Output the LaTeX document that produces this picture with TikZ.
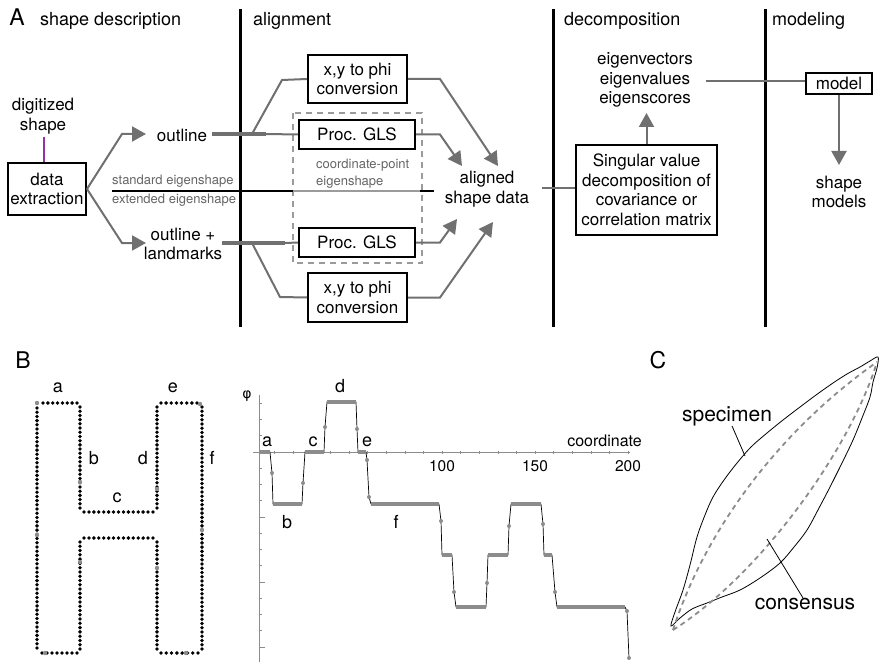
\documentclass[tikz,border=0pt]{standalone}
\usepackage{fontspec}
\setmainfont{TeX Gyre Heros}
\newfontfamily\dejavu{DejaVu Sans}
\usetikzlibrary{arrows.meta,calc}
\definecolor{cgray}{RGB}{112,112,112}
\definecolor{lgray}{RGB}{155,155,155}
\definecolor{tgray}{RGB}{100,100,100}
\definecolor{pgray}{RGB}{140,140,140}
\definecolor{purp}{RGB}{150,50,165}
\newcommand\fsz[2]{\fontsize{#1}{#2}\selectfont}
\newcommand\dotline[5]{\foreach \k in {0,...,#5}{\fill ($(#1,#2)!\k/#5!(#3,#4)$) circle[radius=1.9pt];}}
\begin{document}
\begin{tikzpicture}[x=1pt,y=-1pt,
  every node/.style={inner sep=0pt, align=center, font=\fsz{17}{19.5}},
  box/.style={draw=black, line width=2pt, fill=white},
  conn/.style={draw=cgray, line width=2pt},
  thickconn/.style={draw=cgray, line width=3.5pt},
  arr/.style={draw=cgray, line width=2pt, -{Triangle[length=14pt,width=15pt]}},
  secline/.style={draw=black, line width=3pt},
  head/.style={anchor=base west, font=\fsz{18}{20}},
  panel/.style={anchor=base, font=\fsz{23}{23}},
  gtext/.style={text=tgray, font=\fsz{13}{17}},
  plab/.style={font=\fsz{18}{20}},
  bar/.style={draw=pgray, line width=3.4pt},
  axis/.style={draw=pgray, line width=0.8pt}]
\useasboundingbox (0,0) rectangle (880,663);

% ---------- Panel A headers ----------
\node[panel] (lA) at (17,26) {A};
\node[head] (h1) at (40,26) {shape description};
\node[head] (h2) at (253,26) {alignment};
\node[head] (h3) at (564,26) {decomposition};
\node[head] (h4) at (772,26) {modeling};
\coordinate (s1t) at (240,9);  \coordinate (s1b) at (240,327);
\coordinate (s2t) at (553,9);  \coordinate (s2b) at (553,327);
\coordinate (s3t) at (765,9);  \coordinate (s3b) at (765,327);
\draw[secline] (s1t) -- (s1b);
\draw[secline] (s2t) -- (s2b);
\draw[secline] (s3t) -- (s3b);

% dashed group box and separator
\draw[lgray, line width=1.5pt, dash pattern=on 6pt off 5pt] (293,113) rectangle (422,263);
\draw[line width=1.5pt] (112,191) -- (293,191);
\draw[lgray, line width=1.5pt] (293,191) -- (420,191);
\draw[line width=1.5pt] (420,191) -- (434,191);
\node[gtext, anchor=west] (std) at (112,181) {standard eigenshape};
\node[gtext, anchor=west] (ext) at (112,200) {extended eigenshape};
\node[gtext, anchor=west, align=left] (cpe) at (316,174) {coordinate-point\\eigenshape};

% nodes
\node[box, minimum width=78pt, minimum height=52pt] (dext) at (47,189) {data\\extraction};
\node (digit) at (43,116) {digitized\\shape};
\node (outl) at (182,135) {outline};
\node (outlm) at (183,244) {outline +\\landmarks};
\node[box, minimum width=99pt, minimum height=48pt] (xy1) at (357.5,79) {x,y to phi\\conversion};
\node[box, minimum width=116pt, minimum height=29pt] (gls1) at (357,134.5) {Proc. GLS};
\node[box, minimum width=116pt, minimum height=29pt] (gls2) at (357,242.5) {Proc. GLS};
\node[box, minimum width=99pt, minimum height=49pt] (xy2) at (357.5,297.5) {x,y to phi\\conversion};
\node (asd) at (487,189) {aligned\\shape data};
\node[box, minimum width=141pt, minimum height=90pt] (svd) at (646.5,190) {Singular value\\decomposition of\\covariance or\\correlation matrix};
\node (eig) at (645,80) {eigenvectors\\eigenvalues\\eigenscores};
\node[box, minimum width=66pt, minimum height=21pt] (model) at (839,83.5) {model};
\node (smod) at (839,192) {shape\\models};

% connectors
\draw[purp, line width=2.5pt] ([xshift=-3pt]dext.north) -- ++(0,-25);
\draw[arr] (dext.east) -- (122,134) -- (146,134);
\draw[arr] (dext.east) -- (122,243) -- (146,243);
\draw[thickconn] (212,134) -- (266,134);
\draw[conn] (266,134) -- (gls1.west);
\draw[conn] (252,134) -- (282,80) -- (xy1.west);
\draw[thickconn] (222,243) -- (285,243);
\draw[conn] (285,243) -- (gls2.west);
\draw[conn] (252,243) -- (280,297) -- (xy2.west);
\draw[arr] (xy1.east) -- (440,79) -- (498,166);
\draw[arr] (gls1.east) -- (440,134.5) -- (462,166);
\draw[arr] (gls2.east) -- (440,242.5) -- (457,219);
\draw[arr] (xy2.east) -- (440,297.5) -- (493,222);
\draw[conn] (542,188) -- ([yshift=2pt]svd.west);
\draw[arr] (svd.north) -- (646.5,113);
\draw[conn] (706,81) -- ([yshift=2.5pt]model.west);
\draw[arr] (model.south) -- (839,165);

% ---------- Panel B ----------
\node[panel] (lB) at (23,368) {B};
\node[panel] (lC) at (658,368) {C};

% H outline dots
\dotline{37}{408}{37}{648}{57}
\dotline{43}{403}{77}{403}{7}
\dotline{80}{407}{80}{508}{24}
\dotline{84}{512}{153}{512}{14}
\dotline{157}{508}{157}{407}{24}
\dotline{161}{403}{197}{403}{7}
\dotline{202}{407}{202}{649}{57}
\dotline{198}{653}{161}{653}{7}
\dotline{157}{649}{157}{542}{25}
\dotline{153}{538}{84}{538}{14}
\dotline{80}{542}{80}{649}{25}
\dotline{77}{653}{42}{653}{7}
\foreach \x/\y in {37/403, 80/482, 157/489, 200/404, 37/535, 80/562, 157/568, 202/530, 45/653, 186/653}
  \fill[pgray] (\x,\y) circle[radius=2.2pt];
\node[plab] (ha) at (58,388) {a};
\node[plab] (he) at (173,388) {e};
\node[plab] (hb) at (94,458) {b};
\node[plab] (hd) at (143,458) {d};
\node[plab] (hf) at (212,458) {f};
\node[plab] (hc) at (117,498) {c};

% plot axes
\draw[axis] (259,395) -- (259,662);
\foreach \p in {1.5,1.0,...,-6.5} \draw[axis] (259,{452-32.5*\p}) -- ++(3,0);
\foreach \p in {-2,-4,-6} \draw[axis] (259,{452-32.5*\p}) -- ++(6,0);
\draw[axis] (253,452) -- (630,452);
\foreach \c in {10,20,...,200} \draw[axis, line width=0.6pt] ({256+1.86*\c},450.5) -- ++(0,3);
\node[font=\fsz{14}{14}] (phi) at (247,396) {\dejavu φ};
\node[font=\fsz{15.5}{16}] (t100) at (442,466) {100};
\node[font=\fsz{15.5}{16}] (t150) at (535,466) {150};
\node[font=\fsz{15.5}{16}] (t200) at (628,466) {200};
\node[anchor=east, font=\fsz{16}{16}] (coord) at (642,441) {coordinate};

% data curve
\draw[line width=0.7pt] plot coordinates {(259,452) (270,452) (272,473) (273,504) (302,504) (303,483) (305,452) (324,452) (325,427) (327,402) (356,402) (357,429) (358,452) (366,452) (367,460) (369,497) (371,504) (439,504) (441,521) (442,555) (452,555) (454,592) (456,607) (486,607) (487,583) (488,555) (508,555) (509,526) (511,504) (541,504) (543,524) (544,555) (552,555) (555,592) (557,607) (625,607) (627,611) (629,658)};
\foreach \a/\b/\y in {259/270/452, 273/302/504, 305/324/452, 327/356/402, 358/366/452, 371/439/504, 442/452/555, 456/486/607, 488/508/555, 511/541/504, 544/552/555, 557/625/607}
  \draw[bar] (\a,\y) -- (\b,\y);
\foreach \x/\y in {272/473, 303/483, 325/427, 357/429, 367/460, 369/497, 441/521, 454/592, 487/583, 509/526, 543/524, 555/592, 627/611, 629/658}
  \fill[pgray] (\x,\y) circle[radius=2pt];
\node[plab] (pa) at (267,442) {a};
\node[plab] (pc) at (313,442) {c};
\node[plab] (pe) at (367,442) {e};
\node[plab] (pd) at (340,386) {d};
\node[plab] (pb) at (287,522) {b};
\node[plab] (pf) at (396,522) {f};

% ---------- Panel C ----------
\draw[line width=0.8pt] plot[smooth cycle, tension=0.55] coordinates {
 (671,626) (675,612) (683,590) (690,565) (697,537) (705,515) (713,497) (724,480) (737,463) (751,447) (767,433) (783,420) (800,407) (816,395) (833,383) (847,374) (860,367) (870,361) (878,357)
 (877,368) (873,382) (870,397) (862,418) (853,440) (842,463) (830,487) (819,508) (807,530) (794,547) (780,563) (760,578) (740,590) (722,597) (707,603) (692,609) (680,618)};
\draw[pgray, line width=1.8pt, dash pattern=on 5pt off 4pt] (673,630) .. controls (705,530) and (780,430) .. (877,362);
\draw[pgray, line width=1.8pt, dash pattern=on 5pt off 4pt] (673,630) .. controls (760,575) and (850,450) .. (877,362);
\node[font=\fsz{21}{22}] (spec) at (727,416) {specimen};
\node[font=\fsz{21}{22}] (cons) at (805,604) {consensus};
\coordinate (specpt) at (745,456);
\coordinate (conspt) at (767,539);
\draw[line width=0.8pt] ([xshift=5pt]spec.south) -- (specpt);
\draw[line width=0.8pt] ([xshift=-2pt]cons.north) -- (conspt);
\end{tikzpicture}
\end{document}
